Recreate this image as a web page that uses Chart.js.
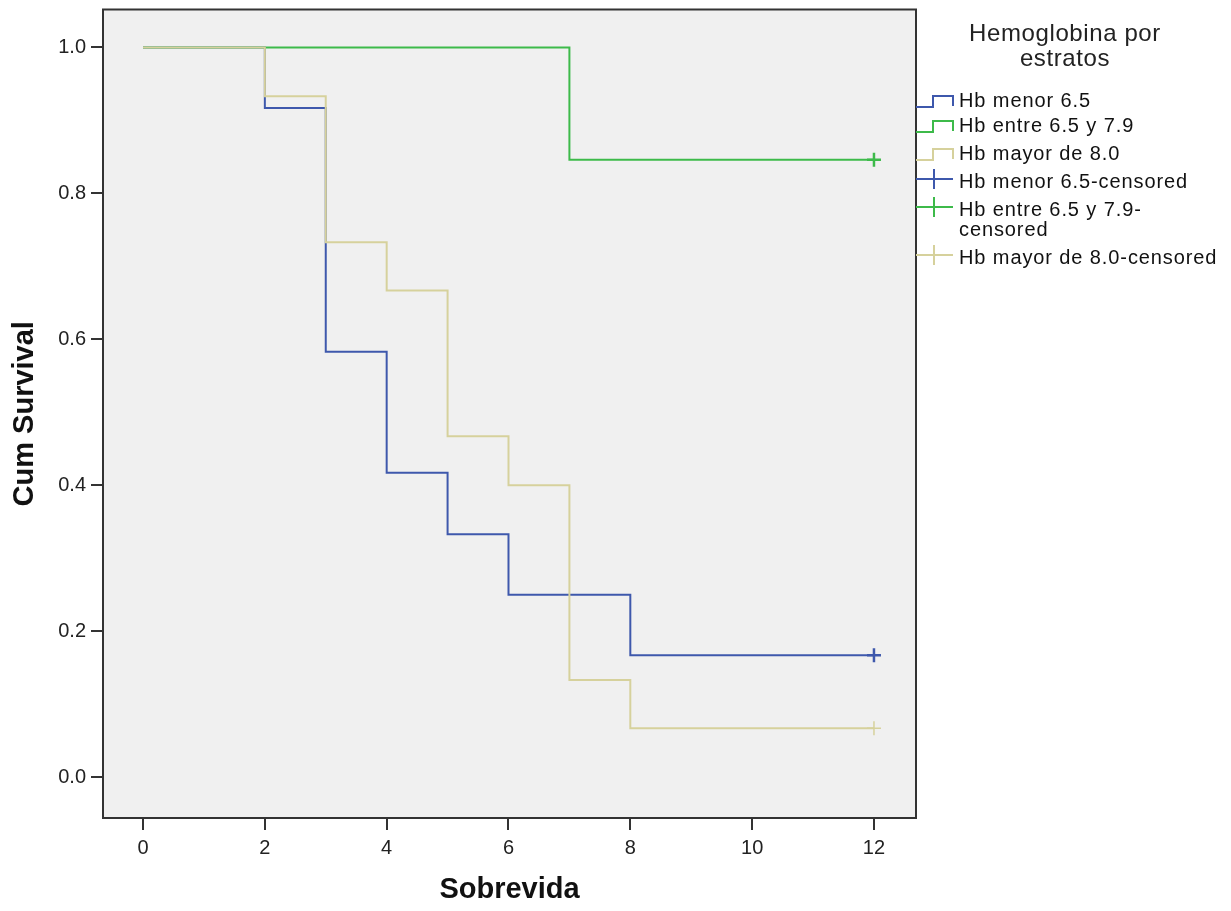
<!DOCTYPE html>
<html>
<head>
<meta charset="utf-8">
<script src="https://cdn.jsdelivr.net/npm/chart.js@4.4.1/dist/chart.umd.min.js"></script>
<style>
  body { margin: 0; background: #fff; font-family: "Liberation Sans", Arial, sans-serif; }
  #wrap { position: relative; width: 1231px; height: 911px; }
  #legend { position: absolute; left: 916px; top: 0; width: 315px; height: 300px; color: #111; }
  .ltitle { position: absolute; left: 0; width: 298px; text-align: center; font-size: 24px; line-height: 25px; top: 20px; letter-spacing: 0.6px; color: #222; }
  .item { position: absolute; left: 0; font-size: 20px; line-height: 20px; letter-spacing: 0.9px; }
  .item svg { position: absolute; left: 0; }
  .item span { position: absolute; left: 43px; top: 0; white-space: nowrap; }
</style>
</head>
<body>
<div id="wrap">
  <canvas id="km" width="1231" height="911"></canvas>
  <div id="legend"></div>
</div>
<script>
// survival time (months) and cumulative survival per stratum
const timesLow = [0, 2, 3, 4, 5, 6, 8, 12];
const survLow = [1.0, 0.917, 0.583, 0.417, 0.333, 0.25, 0.167, 0.167];
const timesMid = [0, 2, 7, 12];
const survMid = [1.0, 1.0, 0.846, 0.846];
const timesHigh = [0, 2, 3, 4, 5, 6, 7, 8, 12];
const survHigh = [1.0, 0.933, 0.733, 0.667, 0.467, 0.4, 0.133, 0.067, 0.067];

// censored observations
const censLow = [[12, 0.167]];
const censMid = [[12, 0.846]];
const censHigh = [[12, 0.067]];

const xTicks = [0, 2, 4, 6, 8, 10, 12];
const yTicks = [0, 0.2, 0.4, 0.6, 0.8, 1.0];

const blue = '#3e58ac';
const green = '#3dba4a';
const beige = '#d6d19c';

function pts(xs, ys) {
  return xs.map((x, i) => ({ x: x, y: ys[i] }));
}
function cpts(arr) {
  return arr.map(p => ({ x: p[0], y: p[1] }));
}

const plotBox = {
  id: 'plotBox',
  beforeDraw(chart) {
    const { ctx, chartArea: a } = chart;
    ctx.save();
    ctx.fillStyle = '#f0f0f0';
    ctx.fillRect(a.left, a.top, a.right - a.left, a.bottom - a.top);
    ctx.restore();
  },
  afterDraw(chart) {
    const { ctx, chartArea: a } = chart;
    ctx.save();
    ctx.strokeStyle = '#333';
    ctx.lineWidth = 2;
    ctx.strokeRect(a.left, a.top, a.right - a.left, a.bottom - a.top);
    ctx.restore();
  }
};

const tickFont = { family: '"Liberation Sans", Arial, sans-serif', size: 20 };
const titleFont = { family: '"Liberation Sans", Arial, sans-serif', size: 29, weight: 'bold' };

// keep the plot frame exactly where the layout padding puts it
function noPad(s) {
  s.paddingTop = 0; s.paddingBottom = 0; s.paddingLeft = 0; s.paddingRight = 0;
}

new Chart(document.getElementById('km'), {
  type: 'scatter',
  data: {
    datasets: [
      { label: 'Hb mayor de 8.0', data: pts(timesHigh, survHigh), showLine: true, stepped: 'before',
        borderColor: beige, borderWidth: 2, pointRadius: 0, order: 3 },
      { label: 'Hb menor 6.5', data: pts(timesLow, survLow), showLine: true, stepped: 'before',
        borderColor: blue, borderWidth: 2, pointRadius: 0, order: 5 },
      { label: 'Hb entre 6.5 y 7.9', data: pts(timesMid, survMid), showLine: true, stepped: 'before',
        borderColor: green, borderWidth: 2, pointRadius: 0, order: 4 },
      { label: 'Hb menor 6.5-censored', data: cpts(censLow), pointStyle: 'cross', pointRadius: 7,
        borderColor: blue, borderWidth: 2.5, order: 1 },
      { label: 'Hb entre 6.5 y 7.9-censored', data: cpts(censMid), pointStyle: 'cross', pointRadius: 7,
        borderColor: green, borderWidth: 2.5, order: 1 },
      { label: 'Hb mayor de 8.0-censored', data: cpts(censHigh), pointStyle: 'cross', pointRadius: 7,
        borderColor: beige, borderWidth: 1.5, order: 2 }
    ]
  },
  options: {
    responsive: false,
    animation: false,
    layout: { padding: { left: 0, right: 315, top: 5, bottom: 0 } },
    plugins: { legend: { display: false }, tooltip: { enabled: false } },
    scales: {
      x: {
        type: 'linear',
        min: -0.657,
        max: 12.69,
        afterBuildTicks: s => { s.ticks = xTicks.map(v => ({ value: v })); },
        afterFit: s => { s.height = 93; noPad(s); },
        ticks: { color: '#222', font: tickFont, padding: 6, maxRotation: 0 },
        grid: { drawOnChartArea: false, color: '#333', lineWidth: 2, tickLength: 12 },
        border: { display: false },
        title: { display: true, text: 'Sobrevida', color: '#111', font: titleFont, padding: { top: 4, bottom: 4 } }
      },
      y: {
        type: 'linear',
        min: -0.056,
        max: 1.052,
        afterBuildTicks: s => { s.ticks = yTicks.map(v => ({ value: v })); },
        afterFit: s => { s.width = 103; noPad(s); },
        ticks: { color: '#222', font: tickFont, padding: 5, callback: v => v.toFixed(1) },
        grid: { drawOnChartArea: false, color: '#333', lineWidth: 2, tickLength: 12 },
        border: { display: false },
        title: { display: true, text: 'Cum Survival', color: '#111', font: titleFont, padding: { top: 8, bottom: 4 } }
      }
    }
  },
  plugins: [plotBox]
});

// legend (SPSS style)
const legendLabels = ['Hb menor 6.5', 'Hb entre 6.5 y 7.9', 'Hb mayor de 8.0',
  'Hb menor 6.5-censored', 'Hb entre 6.5 y 7.9-<br>censored', 'Hb mayor de 8.0-censored'];
const legendColors = [blue, green, beige, blue, green, beige];
const legendKinds = ['step', 'step', 'step', 'cens', 'cens', 'cens'];
const legendBaselines = [107, 132, 160, 188, 216, 264];

const leg = document.getElementById('legend');
leg.innerHTML = '<div class="ltitle">Hemoglobina por<br>estratos</div>';
legendLabels.forEach((lab, i) => {
  const c = legendColors[i];
  const top = legendBaselines[i] - 17;
  // svg placed so that its y=20 sits on the text baseline
  const svg = legendKinds[i] === 'step'
    ? `<svg width="40" height="24" style="top:-3px"><polyline points="0,20 17,20 17,9 37,9 37,19" fill="none" stroke="${c}" stroke-width="2"/></svg>`
    : `<svg width="40" height="28" style="top:-3px"><line x1="0" y1="11" x2="37" y2="11" stroke="${c}" stroke-width="2"/><line x1="18" y1="1" x2="18" y2="21" stroke="${c}" stroke-width="2"/></svg>`;
  const d = document.createElement('div');
  d.className = 'item';
  d.style.top = top + 'px';
  d.innerHTML = svg + `<span>${lab}</span>`;
  leg.appendChild(d);
});
</script>
</body>
</html>
